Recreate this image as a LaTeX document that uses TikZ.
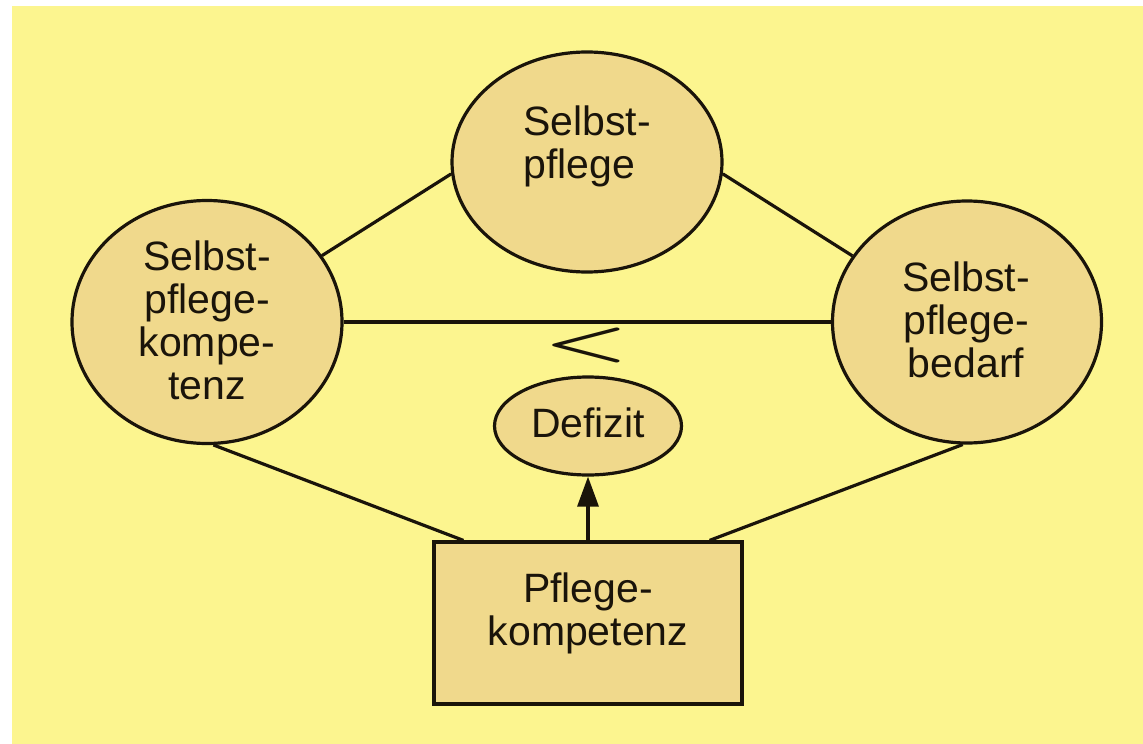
\documentclass[tikz,border=0pt]{standalone}
\usepackage{fontspec}
\setmainfont{Liberation Sans}
\usetikzlibrary{shapes.geometric,arrows.meta,calc}
\definecolor{bgyellow}{RGB}{252,245,143}
\definecolor{nodefill}{RGB}{240,217,140}
\definecolor{ink}{RGB}{26,20,10}
\tikzset{
  shapebox/.style={draw=ink, fill=nodefill, line width=3.2pt, inner sep=0pt},
  oval/.style={shapebox, ellipse},
  txt/.style={inner sep=0pt, text=ink, font=\fontsize{41}{43}\selectfont},
  conn/.style={draw=ink, line width=3.2pt},
}
\begin{document}
\begin{tikzpicture}[x=1pt,y=-1pt]
\useasboundingbox (0,0) rectangle (1143,744);
\fill[white] (0,0) rectangle (1143,744);
\fill[bgyellow] (12,6) rectangle (1143,744);

% shapes
\node[oval, minimum width=270pt, minimum height=220pt] (sp) at (587,162) {};
\node[oval, minimum width=270pt, minimum height=243pt] (spk) at (207,322) {};
\node[oval, minimum width=269pt, minimum height=242pt] (spb) at (967,322) {};
\node[oval, minimum width=187pt, minimum height=98pt] (def) at (588,426) {};
\node[shapebox, rectangle, minimum width=308pt, minimum height=162pt] (pk) at (588,623) {};

% texts
\node[txt, align=left] (sp-t) at (587,146) {Selbst-\\pflege};
\node[txt, align=center] (spk-t) at (207,320.5) {Selbst-\\pflege-\\kompe-\\tenz};
\node[txt, align=center] (spb-t) at (966,320) {Selbst-\\pflege-\\bedarf};
\node[txt] (def-t) at (588,423) {Defizit};
\node[inner sep=0pt, text=ink] (lt) at (586,345) {\scalebox{9.6}[5.2]{\boldmath$<$}};

\node[txt, align=center] (pk-t) at (588,613) {Pflege-\\kompetenz};

% connectors
\draw[conn] (sp.185) -- (spk.30);
\draw[conn] (sp.-5) -- (spb.150);
\draw[conn] (spk.east) -- (spb.west);
\draw[conn] (spk.-87) -- ([xshift=31pt]pk.north west);
\draw[conn] (spb.-92) -- ([xshift=-34pt]pk.north east);
\draw[conn, -{Triangle[width=21pt,length=30pt]}] (pk.north) -- (def.south);
\end{tikzpicture}
\end{document}
